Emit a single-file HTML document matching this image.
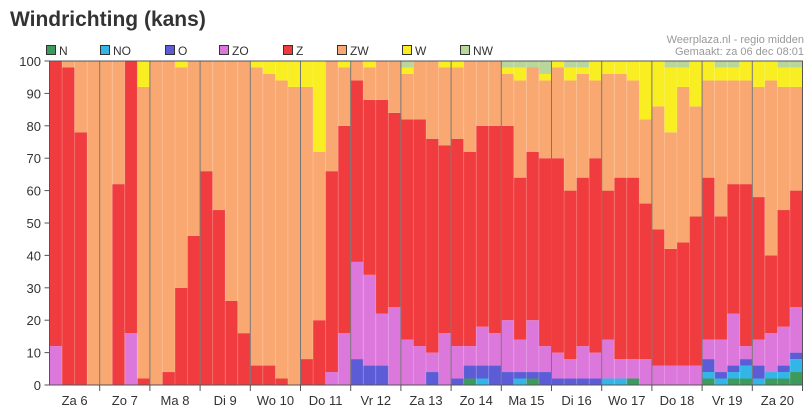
<!DOCTYPE html>
<html><head><meta charset="utf-8"><style>
body{margin:0;background:#fff;width:810px;height:413px;overflow:hidden;font-family:"Liberation Sans",sans-serif}
</style></head><body>
<svg id="chart" width="810" height="413" xmlns="http://www.w3.org/2000/svg" font-family="Liberation Sans, sans-serif">
<text x="10" y="26" font-size="21" font-weight="bold" fill="#333">Windrichting (kans)</text>
<text x="804" y="43" font-size="11" fill="#999" text-anchor="end">Weerplaza.nl - regio midden</text>
<text x="804" y="55" font-size="11" fill="#999" text-anchor="end">Gemaakt: za 06 dec 08:01</text>
<g id="legend"></g>
<g id="bars"></g>
<g id="axes"></g>
</svg>
<script>
const seriesNames=["N","NO","O","ZO","Z","ZW","W","NW"];
const seriesColors=["#3b9a5c","#32b6e8","#5c5cd6","#dc78dc","#f03c3e","#f9a872","#f8ee22","#b9d79a"];
const days=["Za 6","Zo 7","Ma 8","Di 9","Wo 10","Do 11","Vr 12","Za 13","Zo 14","Ma 15","Di 16","Wo 17","Do 18","Vr 19","Za 20"];
const yTicks=[0,10,20,30,40,50,60,70,80,90,100];
const N =[0,0,0,0, 0,0,0,0, 0,0,0,0, 0,0,0,0, 0,0,0,0, 0,0,0,0, 0,0,0,0, 0,0,0,0, 0,2,0,0, 0,0,2,0, 0,0,0,0, 0,0,2,0, 0,0,0,0, 2,0,2,2, 0,2,2,4];
const NO=[0,0,0,0, 0,0,0,0, 0,0,0,0, 0,0,0,0, 0,0,0,0, 0,0,0,0, 0,0,0,0, 0,0,0,0, 0,0,2,0, 0,2,0,0, 0,0,0,0, 2,2,0,0, 0,0,0,0, 2,2,2,4, 2,2,2,4];
const O =[0,0,0,0, 0,0,0,0, 0,0,0,0, 0,0,0,0, 0,0,0,0, 0,0,0,0, 8,6,6,0, 0,0,4,0, 2,4,4,6, 4,2,2,4, 2,2,2,2, 0,0,0,0, 0,0,0,0, 4,2,2,2, 4,0,2,2];
const ZO=[12,0,0,0, 0,0,16,0, 0,0,0,0, 0,0,0,0, 0,0,0,0, 0,0,4,16, 30,28,16,24, 14,12,6,16, 10,6,12,10, 16,10,16,8, 8,6,10,8, 12,6,6,8, 6,6,6,6, 6,10,16,4, 8,12,12,14];
const Z =[88,98,78,0, 0,62,84,2, 0,4,30,46, 66,54,26,16, 6,6,2,0, 8,20,62,64, 56,54,66,60, 68,70,66,58, 64,60,62,64, 60,50,52,58, 60,52,52,60, 46,56,56,48, 42,36,38,46, 50,38,40,50, 44,24,36,36];
const ZW=[0,2,22,100, 100,38,0,90, 100,96,68,54, 34,46,74,84, 92,90,92,92, 84,52,34,18, 6,10,12,16, 14,18,24,24, 22,28,20,20, 16,30,26,24, 28,34,32,24, 36,32,30,26, 38,36,48,34, 30,42,32,32, 34,54,38,32];
const W =[0,0,0,0, 0,0,0,8, 0,0,2,0, 0,0,0,0, 2,4,6,8, 8,28,0,2, 0,2,0,0, 2,0,0,2, 2,0,0,0, 2,4,0,2, 2,4,2,6, 4,4,6,18, 14,20,6,14, 6,4,4,6, 8,6,6,6];
const NW=[0,0,0,0, 0,0,0,0, 0,0,0,0, 0,0,0,0, 0,0,0,0, 0,0,0,0, 0,0,0,0, 2,0,0,0, 0,0,0,0, 2,2,2,4, 0,2,2,0, 0,0,0,0, 0,2,2,0, 0,2,2,0, 0,0,2,2];
const series=[N,NO,O,ZO,Z,ZW,W,NW];
const NS="http://www.w3.org/2000/svg";
const X0=49.5,X1=802.5,Y0=385,Y1=61,BPD=4;
const dayW=(X1-X0)/days.length,barW=dayW/BPD;
const y=v=>Y0-(Y0-Y1)*v/100;
const x=i=>X0+i*barW;
function mk(t,a,p){const e=document.createElementNS(NS,t);for(const k in a)e.setAttribute(k,a[k]);p.appendChild(e);return e;}
const gb=document.getElementById('bars'),ga=document.getElementById('axes'),gl=document.getElementById('legend');
for(let i=0;i<N.length;i++){
  let c=0;
  for(let s=0;s<series.length;s++){
    const v=series[s][i];if(!v)continue;
    const r=mk('rect',{x:x(i),y:y(c+v),width:barW,height:y(c)-y(c+v),fill:seriesColors[s]},gb);
    
    
    c+=v;
  }
  const l=mk('line',{x1:x(i),x2:x(i),y1:Y1,y2:Y0,stroke:'rgba(255,255,255,0.18)','stroke-width':1},gb);
  
  
}
days.forEach((d,j)=>{
  const xs=X0+j*dayW;
  if(j>0){const l=mk('line',{x1:xs,x2:xs,y1:Y1,y2:Y0,stroke:'#777','stroke-width':1},ga);
    
    }
  const t=mk('line',{x1:xs+dayW,x2:xs+dayW,y1:Y0,y2:Y0+6,stroke:'#555'},ga);
  
  
  const tx=mk('text',{x:xs+dayW/2,y:405,'font-size':13,fill:'#333','text-anchor':'middle'},ga);
  tx.textContent=d;
  
  
});
yTicks.forEach(v=>{
  const t=mk('line',{x1:X0-5,x2:X0,y1:y(v),y2:y(v),stroke:'#555'},ga);
  
  
  const tx=mk('text',{x:41,y:y(v)+5,'font-size':13,fill:'#333','text-anchor':'end'},ga);
  tx.textContent=v;
  
  
});
const fr=mk('rect',{x:X0,y:Y1,width:X1-X0,height:Y0-Y1,fill:'none',stroke:'#555'},ga);


const legX=[46,100,165,219,283,337,402,460];
seriesNames.forEach((n,s)=>{
  const g=mk('g',{},gl);
  
  
  mk('rect',{x:legX[s]+0.5,y:45.5,width:9,height:9,fill:seriesColors[s],stroke:'#333'},g);
  const t=mk('text',{x:legX[s]+13,y:55,'font-size':12,fill:'#333'},g);t.textContent=n;
});
</script>
</body></html>
